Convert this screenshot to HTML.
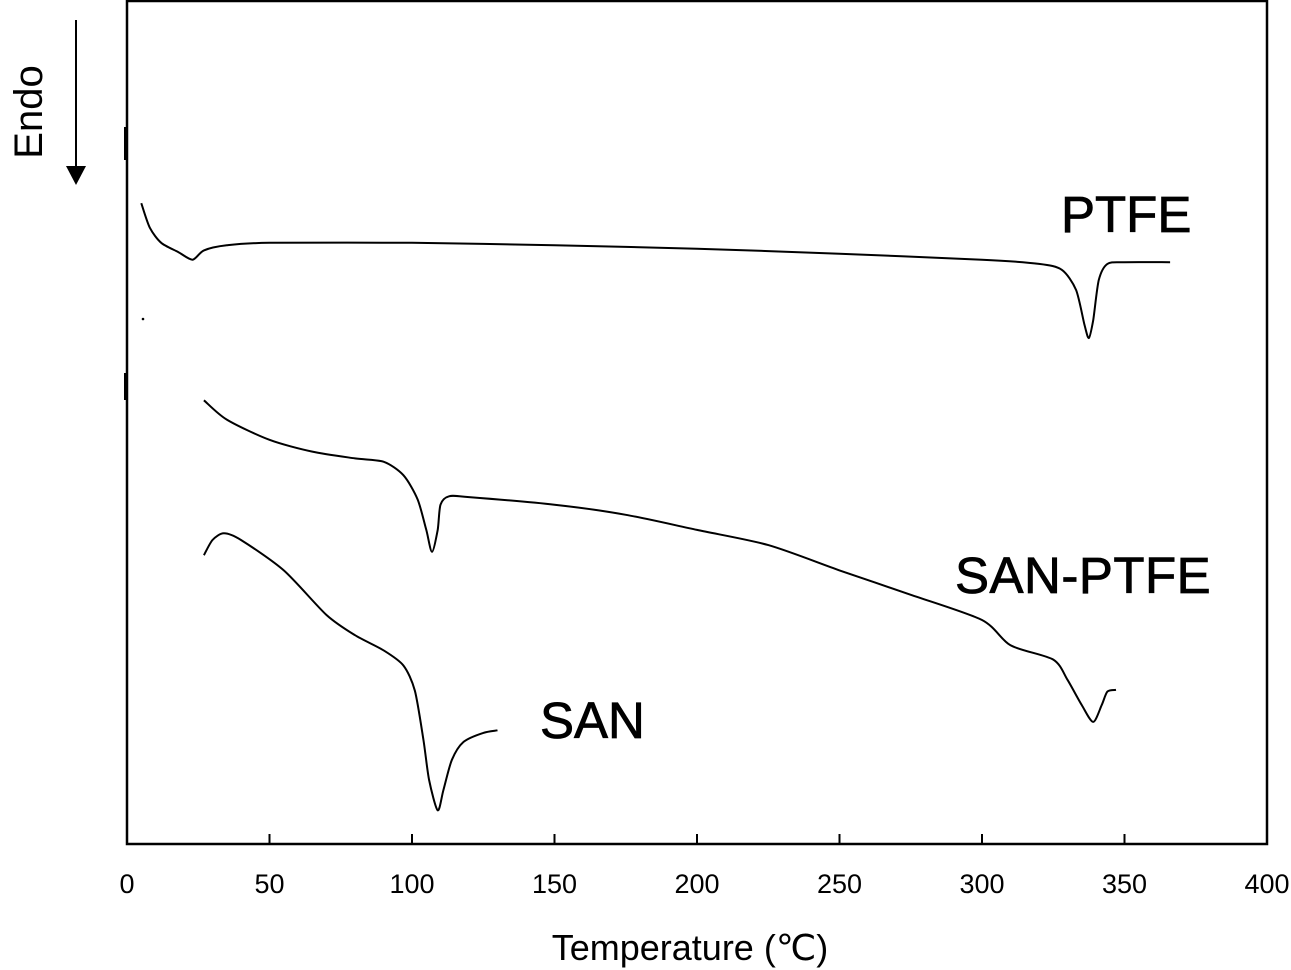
<!DOCTYPE html>
<html><head><meta charset="utf-8"><style>
html,body{margin:0;padding:0;background:#fff;}
svg{display:block;font-family:"Liberation Sans",sans-serif;}
</style></head><body>
<svg id="chart" width="1291" height="970">
  <g id="frame">
    <rect x="127" y="1" width="1140" height="843" fill="none" stroke="#000" stroke-width="2.5"/>
    <line x1="125.5" y1="127" x2="125.5" y2="160" stroke="#000" stroke-width="3"/>
    <line x1="125.5" y1="373" x2="125.5" y2="400" stroke="#000" stroke-width="3"/>
    <circle cx="143" cy="319" r="1.3" fill="#000"/>
  </g>
  <g id="ticks"></g>
  <g id="series"></g>
  <g stroke="#000" stroke-width="0.8" fill="#000">
  <text x="1061" y="232" font-size="51">PTFE</text>
  <text x="955" y="593" font-size="51" letter-spacing="0.5">SAN-PTFE</text>
  <text x="540" y="738" font-size="51">SAN</text>
  </g>
  <text x="690" y="960" font-size="36" text-anchor="middle">Temperature (℃)</text>
  <text transform="translate(42,112) rotate(-90)" font-size="40" text-anchor="middle">Endo</text>
  <line x1="76" y1="20" x2="76" y2="168" stroke="#000" stroke-width="2"/>
  <polygon points="66,166 86,166 76,185" fill="#000"/>
</svg>
<script>
const xTicks = [0,50,100,150,200,250,300,350,400];
const ptfeT = [5,8,12,18,23,27,35,50,100,150,200,250,300,320,328,333,336,337.5,339,341,344,350,366];
const ptfeV = [76.1,73.2,71.4,70.3,69.4,70.5,71.1,71.4,71.4,71.1,70.7,70.1,69.4,68.9,68.2,65.8,61.6,60.1,62.2,67.0,68.9,69.1,69.1];
const sanPtfeT = [27,35,50,65,80,90,97,102,105,107,109,110,113,120,150,175,200,225,250,275,300,310,325,330,335,339,342,344,347];
const sanPtfeV = [52.7,50.4,48.0,46.6,45.8,45.4,43.8,40.9,37.3,34.7,37.3,40.3,41.3,41.2,40.3,39.1,37.3,35.5,32.5,29.6,26.6,23.6,21.9,19.5,16.5,14.5,16.5,18.1,18.3];
const sanT = [27,30,34,40,55,70,80,90,97,101,104,106,109,111,114,118,125,130];
const sanV = [34.3,36.1,36.9,36.1,32.5,27.2,24.8,23.0,21.2,18.2,12.4,7.6,4.0,6.4,10.0,12.1,13.2,13.5];

const NS="http://www.w3.org/2000/svg";
const xs = t => 127 + (t/400)*1140;
const ys = v => 844 - v*8.42;

const tg=document.getElementById('ticks');
xTicks.forEach(t=>{
  if(t>0 && t<400){
    const l=document.createElementNS(NS,'line');
    l.setAttribute('x1',xs(t));l.setAttribute('x2',xs(t));
    l.setAttribute('y1',844);l.setAttribute('y2',834);
    l.setAttribute('stroke','#000');l.setAttribute('stroke-width','2');
    
    
    tg.appendChild(l);
  }
  const tx=document.createElementNS(NS,'text');
  tx.setAttribute('x',xs(t));tx.setAttribute('y',893);
  tx.setAttribute('font-size','27');tx.setAttribute('text-anchor','middle');
  tx.textContent=t;
  
  
  tg.appendChild(tx);
});

const sg=document.getElementById('series');
function draw(T,V,name){
  const P=T.map((t,i)=>[xs(t),ys(V[i])]);
  let d='M'+P[0][0].toFixed(1)+','+P[0][1].toFixed(1);
  for(let i=0;i<P.length-1;i++){
    const p0=P[Math.max(0,i-1)],p1=P[i],p2=P[i+1],p3=P[Math.min(P.length-1,i+2)];
    const k=1/6*0.8;
    const c1=[p1[0]+(p2[0]-p0[0])*k,p1[1]+(p2[1]-p0[1])*k];
    const c2=[p2[0]-(p3[0]-p1[0])*k,p2[1]-(p3[1]-p1[1])*k];
    d+='C'+c1.map(n=>n.toFixed(1)).join(',')+' '+c2.map(n=>n.toFixed(1)).join(',')+' '+p2[0].toFixed(1)+','+p2[1].toFixed(1);
  }
  const p=document.createElementNS(NS,'path');
  p.setAttribute('d',d);
  p.setAttribute('fill','none');p.setAttribute('stroke','#000');
  p.setAttribute('stroke-width','2');p.setAttribute('stroke-linejoin','round');
  
  
  sg.appendChild(p);
}
draw(ptfeT,ptfeV,'ptfe-curve');
draw(sanPtfeT,sanPtfeV,'san-ptfe-curve');
draw(sanT,sanV,'san-curve');
</script>
</body></html>
